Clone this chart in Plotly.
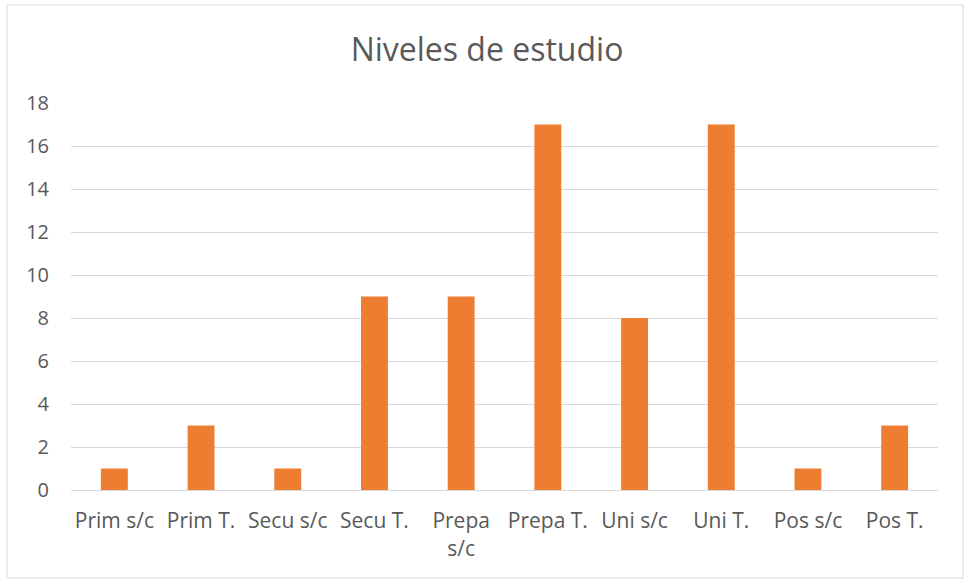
import plotly.graph_objects as go

categories = ["Prim s/c", "Prim T.", "Secu s/c", "Secu T.", "Prepa<br>s/c",
              "Prepa T.", "Uni s/c", "Uni T.", "Pos s/c", "Pos T."]
values = [1, 3, 1, 9, 9, 17, 8, 17, 1, 3]
y_ticks = [0, 2, 4, 6, 8, 10, 12, 14, 16, 18]

W, H = 967, 580
PX0, PX1, PY0, PY1 = 71, 938, 103, 490
L = PX0
R = W - PX1
T = PY0
B = H - PY1
pw, ph = PX1 - PX0, PY1 - PY0

def px_x(x):
    return (x - PX0) / pw

def px_y(y):
    return (PY1 - y) / ph

fig = go.Figure(go.Bar(x=categories, y=values, marker_color="#ED7D31",
                       marker_line_width=0))

fig.update_layout(
    width=W, height=H,
    margin=dict(l=L, r=R, t=T, b=B),
    paper_bgcolor="white", plot_bgcolor="white",
    bargap=0.69,
    font=dict(family="Open Sans, sans-serif", color="#595959", size=18),
    title=dict(text="Niveles de estudio", x=px_x(487), xref="paper",
               y=1 - 50 / H, yref="container", xanchor="center", yanchor="middle",
               font=dict(size=32, color="#595959")),
    showlegend=False,
    shapes=[dict(type="rect", xref="paper", yref="paper",
                 x0=px_x(7), x1=px_x(963), y0=px_y(578), y1=px_y(5),
                 line=dict(color="#D9D9D9", width=1), fillcolor="rgba(0,0,0,0)",
                 layer="below")],
)
fig.update_yaxes(range=[0, 18], tickvals=y_ticks, showgrid=True, gridcolor="#D9D9D9",
                 gridwidth=1, zeroline=False, showline=False, ticks="",
                 ticklabelstandoff=21, tickfont=dict(size=20))
fig.update_xaxes(showgrid=False, showline=True, linecolor="#D9D9D9", linewidth=1,
                 ticks="", ticklabelstandoff=12, tickfont=dict(size=21))

fig.write_html("out.html", config={"displayModeBar": False},
               post_script="document.body.style.margin='0';document.body.style.padding='0';")
